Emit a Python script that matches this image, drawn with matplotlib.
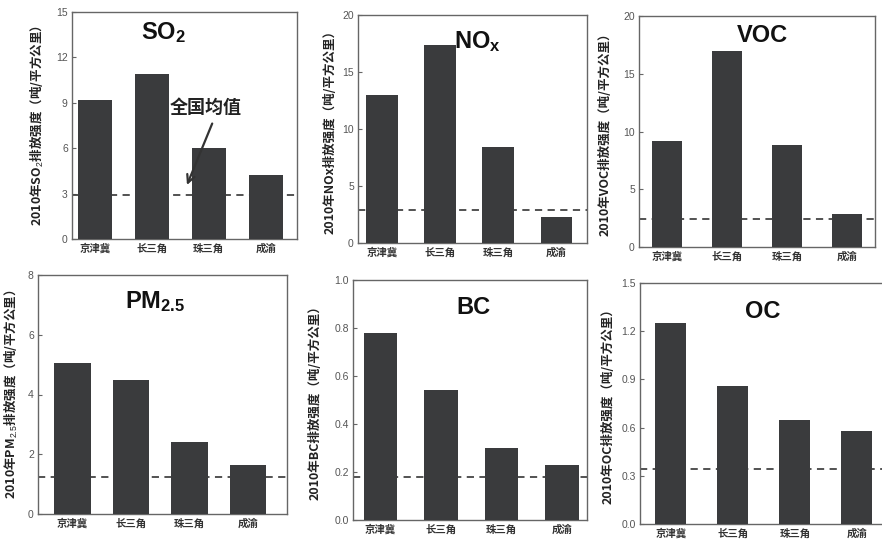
import matplotlib.pyplot as plt

plt.rcParams['font.family'] = ['Liberation Sans', 'Noto Sans CJK SC', 'DejaVu Sans']
plt.rcParams['mathtext.fontset'] = 'custom'
plt.rcParams['mathtext.rm'] = 'Liberation Sans'
plt.rcParams['mathtext.it'] = 'Liberation Sans:italic'
plt.rcParams['mathtext.bf'] = 'Liberation Sans:bold'

# data
regions = ['京津冀', '长三角', '珠三角', '成渝']
so2 = [9.2, 10.9, 6.0, 4.2]
nox = [13.0, 17.4, 8.4, 2.3]
voc = [9.2, 17.0, 8.8, 2.9]
pm25 = [5.05, 4.5, 2.4, 1.65]
bc = [0.78, 0.54, 0.30, 0.23]
oc = [1.25, 0.86, 0.65, 0.58]
national_avg = [2.9, 2.9, 2.4, 1.25, 0.18, 0.34]
ymax = [15, 20, 20, 8, 1.0, 1.5]
yticks = [[0, 3, 6, 9, 12, 15], [0, 5, 10, 15, 20], [0, 5, 10, 15, 20],
          [0, 2, 4, 6, 8], [0.0, 0.2, 0.4, 0.6, 0.8, 1.0],
          [0.0, 0.3, 0.6, 0.9, 1.2, 1.5]]
ytick_fmt = ['{:.0f}', '{:.0f}', '{:.0f}', '{:.0f}', '{:.1f}', '{:.1f}']
titles = [r'$\mathbf{SO_2}$', r'$\mathbf{NO_x}$', 'VOC',
          r'$\mathbf{PM_{2.5}}$', 'BC', 'OC']
ylabels = ['2010年SO$_2$排放强度（吨/平方公里）', '2010年NOx排放强度（吨/平方公里）',
           '2010年VOC排放强度（吨/平方公里）', '2010年PM$_{2.5}$排放强度（吨/平方公里）',
           '2010年BC排放强度（吨/平方公里）', '2010年OC排放强度（吨/平方公里）']
series = [so2, nox, voc, pm25, bc, oc]

W, H = 882, 548
# axes boxes in pixels: left, top, right, bottom
boxes = [(72, 12, 297, 239), (358, 15, 587, 243), (639, 16, 875, 247),
         (38, 275, 287, 514), (353, 280, 587, 520), (640, 283, 900, 524)]
xlims = [(-0.4, 3.55), (-0.41, 3.53), (-0.47, 3.47),
         (-0.59, 3.67), (-0.45, 3.41), (-0.5, 3.7)]
bar_w = [0.6, 0.54, 0.5, 0.62, 0.55, 0.5]
title_px = [(163, 33), (477, 42), (762, 35), (155, 302), (473, 307), (763, 312)]
ylabel_x = [46, 337, 612, 20, 322, 615]

bar_color = '#3a3b3d'

fig = plt.figure(figsize=(W / 100, H / 100), dpi=100)
fig.patch.set_facecolor('white')

axes = []
for i in range(6):
    l, t, r, b = boxes[i]
    ax = fig.add_axes([l / W, 1 - b / H, (r - l) / W, (b - t) / H])
    axes.append(ax)
    x = list(range(len(regions)))
    ax.bar(x, series[i], width=bar_w[i], color=bar_color, zorder=3)
    ax.axhline(national_avg[i], color='#444444', lw=1.3,
               linestyle=(0, (4, 3)), zorder=2)
    ax.set_xlim(*xlims[i])
    ax.set_ylim(0, ymax[i])
    ax.set_xticks(x)
    ax.set_xticklabels(regions, fontsize=7.5, color='#333333',
                       family=['Noto Sans CJK SC'], fontweight='bold')
    ax.set_yticks(yticks[i])
    ax.set_yticklabels([ytick_fmt[i].format(v) for v in yticks[i]],
                       fontsize=7.5, color='#555555')
    ax.tick_params(axis='both', direction='in', length=3, width=0.8,
                   color='#666666', pad=3)
    ax.tick_params(axis='x', length=0)
    for s in ax.spines.values():
        s.set_color('#666666')
        s.set_linewidth(1.0)
    # mathtext text uses the first family only, so keep CJK first here
    ax.set_ylabel(ylabels[i], fontsize=9, color='#222222', fontweight='bold',
                  family=['Noto Sans CJK SC'])
    ax.yaxis.set_label_coords((ylabel_x[i] - l) / (r - l), 0.5)
    tx, ty = title_px[i]
    fig.text(tx / W, 1 - ty / H, titles[i], fontsize=17, fontweight='bold',
             color='#111111', ha='center', va='center')

# national average annotation on the SO2 panel
ax0 = axes[0]
ax0.text(1.95, 8.7, '全国均值', fontsize=13, fontweight='bold', color='#222222',
         ha='center', va='center', family=['Noto Sans CJK SC'], zorder=5)
ax0.annotate('', xy=(1.6, 3.4), xytext=(2.08, 7.8),
             arrowprops=dict(arrowstyle='->', color='#333333', lw=1.6,
                             mutation_scale=14), zorder=5)

fig.savefig('out.png', dpi=100, facecolor='white')
